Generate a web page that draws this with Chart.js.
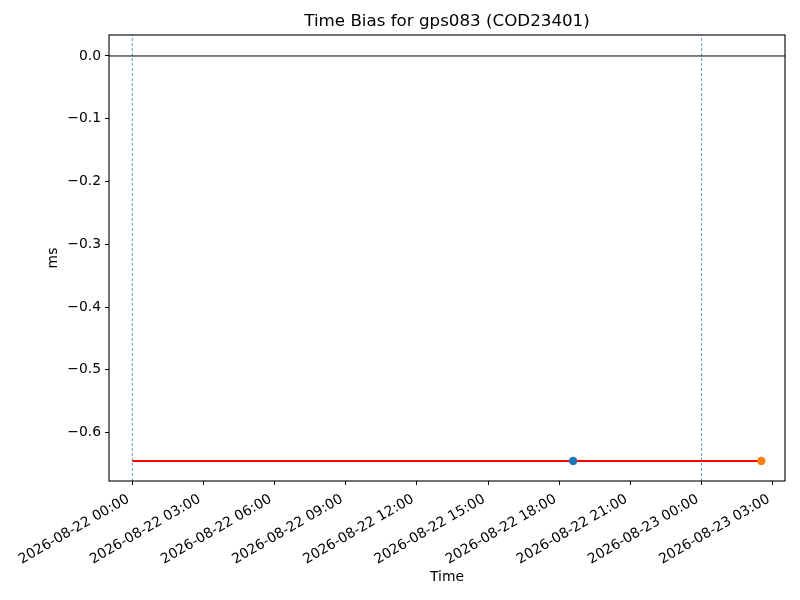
<!DOCTYPE html>
<html>
<head>
<meta charset="utf-8">
<script src="https://cdn.jsdelivr.net/npm/chart.js@4"></script>
<style>
  html, body { margin: 0; padding: 0; background: #fff; }
  #wrap { width: 800px; height: 600px; }
</style>
</head>
<body>
<div id="wrap"><canvas id="biasChart" width="800" height="600"></canvas></div>
<script>
// ===== DATA =====
const chartTitle = 'Time Bias for gps083 (COD23401)';
const baseTime = '2026-08-22 00:00';
const biasLineTimes = ['2026-08-22 00:00', '2026-08-23 02:31'];
const biasLineValues = [-0.645, -0.645];
const pointTimes = ['2026-08-22 18:35', '2026-08-23 02:31'];
const pointValues = [-0.645, -0.645];
const pointColors = ['#1f77b4', '#ff7f0e'];
const dayBoundaries = ['2026-08-22 00:00', '2026-08-23 00:00'];
const xTickTimes = ['2026-08-22 00:00', '2026-08-22 03:00', '2026-08-22 06:00', '2026-08-22 09:00',
  '2026-08-22 12:00', '2026-08-22 15:00', '2026-08-22 18:00', '2026-08-22 21:00',
  '2026-08-23 00:00', '2026-08-23 03:00'];
const yTicks = [0.0, -0.1, -0.2, -0.3, -0.4, -0.5, -0.6];
const xRange = ['2026-08-21 23:01', '2026-08-23 03:31'];
const yRange = [-0.677, 0.0334];

// ===== HELPERS =====
const toMs = (s) => {
  const [d, t] = s.split(' ');
  const [Y, M, D] = d.split('-').map(Number);
  const [h, m] = t.split(':').map(Number);
  return Date.UTC(Y, M - 1, D, h, m);
};
const toHours = (s) => (toMs(s) - toMs(baseTime)) / 3600000;
const hourLabel = new Map(xTickTimes.map(s => [toHours(s).toFixed(3), s]));
const fmtY = (v) => {
  const r = Math.round(v * 10) / 10;
  return (r < 0 ? '\u2212' : '') + Math.abs(r).toFixed(1);
};

const xMin = toHours(xRange[0]);
const xMax = toHours(xRange[1]);
const FONT = 'DejaVu Sans';

// spines box + title centred over the axes, matplotlib style
const framePlugin = {
  id: 'frame',
  afterDatasetsDraw(chart) {
    const { ctx, chartArea: a } = chart;
    ctx.save();
    ctx.strokeStyle = '#000';
    ctx.lineWidth = 1.1;
    ctx.strokeRect(a.left, a.top, a.right - a.left, a.bottom - a.top);
    ctx.fillStyle = '#000';
    ctx.font = '16.7px "' + FONT + '"';
    ctx.textAlign = 'center';
    ctx.textBaseline = 'alphabetic';
    ctx.fillText(chartTitle, (a.left + a.right) / 2, 26);
    ctx.restore();
  }
};

const datasets = [];
dayBoundaries.forEach(t => {
  datasets.push({
    data: [{ x: toHours(t), y: yRange[0] }, { x: toHours(t), y: yRange[1] }],
    borderColor: '#1f77b4', borderWidth: 0.7, borderDash: [3, 2],
    pointRadius: 0, showLine: true, fill: false, order: 5
  });
});
datasets.push({
  data: [{ x: xMin, y: 0 }, { x: xMax, y: 0 }],
  borderColor: '#000', borderWidth: 1,
  pointRadius: 0, showLine: true, fill: false, order: 4
});
datasets.push({
  data: biasLineTimes.map((t, i) => ({ x: toHours(t), y: biasLineValues[i] })),
  borderColor: '#ff0000', borderWidth: 2,
  pointRadius: 0, showLine: true, fill: false, order: 3
});
pointTimes.forEach((t, i) => {
  datasets.push({
    data: [{ x: toHours(t), y: pointValues[i] }],
    backgroundColor: pointColors[i], borderColor: pointColors[i],
    pointRadius: 4.2, borderWidth: 0, showLine: false, order: 1
  });
});

new Chart(document.getElementById('biasChart'), {
  type: 'scatter',
  data: { datasets },
  plugins: [framePlugin],
  options: {
    responsive: false,
    devicePixelRatio: 1,
    animation: false,
    layout: { padding: { left: 0, right: 15, top: 35, bottom: 0 } },
    plugins: {
      legend: { display: false },
      tooltip: { enabled: false },
      title: { display: false }
    },
    scales: {
      x: {
        type: 'linear',
        min: xMin, max: xMax,
        afterFit: (s) => { s.height = 119; },
        afterBuildTicks: (s) => { s.ticks = xTickTimes.map(t => ({ value: toHours(t) })); },
        grid: { display: true, drawOnChartArea: false, color: '#000', tickLength: 4, tickWidth: 1 },
        border: { display: false },
        ticks: {
          autoSkip: false, minRotation: 30, maxRotation: 30, padding: 6, labelOffset: -4,
          color: '#000', font: { family: FONT, size: 13.9 },
          callback: (v) => hourLabel.get(Number(v).toFixed(3)) || ''
        },
        title: {
          display: true, text: 'Time', color: '#000',
          font: { family: FONT, size: 13.9 }, padding: { top: 0, bottom: 14.7 }
        }
      },
      y: {
        type: 'linear',
        min: yRange[0], max: yRange[1],
        afterFit: (s) => { s.width = 109; },
        afterBuildTicks: (s) => { s.ticks = yTicks.map(v => ({ value: v })); },
        grid: { display: true, drawOnChartArea: false, color: '#000', tickLength: 4, tickWidth: 1 },
        border: { display: false },
        ticks: {
          padding: 4, color: '#000', font: { family: FONT, size: 13.9 },
          callback: (v) => fmtY(v)
        },
        title: {
          display: true, text: 'ms', color: '#000',
          font: { family: FONT, size: 13.9 }, padding: { top: 44.7, bottom: 0 }
        }
      }
    }
  }
});
</script>
</body>
</html>
